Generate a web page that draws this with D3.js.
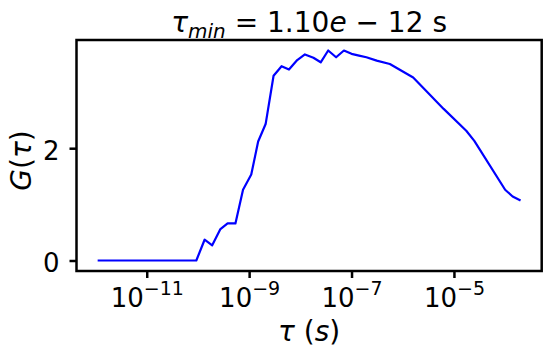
<!DOCTYPE html>
<html>
<head>
<meta charset="utf-8">
<script src="https://cdn.jsdelivr.net/npm/d3@7"></script>
<style>
  body { margin: 0; background: #fff; }
  svg { display: block; font-family: "DejaVu Sans", sans-serif; }
  .axis path { stroke: #000; stroke-width: 2.5; }
  .axis line { stroke: #000; stroke-width: 2.5; }
  .axis text { font-size: 26px; fill: #000; font-family: "DejaVu Sans", sans-serif; }
</style>
</head>
<body>
<div id="chart"></div>
<script>

// Lag times (s) and correlation values
var tau = [1.10e-12, 9.3e-11, 1.35e-10, 1.9e-10, 2.75e-10, 3.8e-10, 5.4e-10, 7.6e-10,
           1.1e-9, 1.5e-9, 2.1e-9, 3.0e-9, 4.3e-9, 6.0e-9, 8.7e-9, 1.23e-8, 1.8e-8,
           2.5e-8, 3.5e-8, 5.0e-8, 7.1e-8, 1.0e-7, 1.4e-7, 1.95e-7, 3.1e-7, 5.6e-7,
           1.6e-6, 6.3e-6, 1.74e-5, 2.5e-5, 1.0e-4, 1.4e-4, 2.0e-4];
var G = [0, 0, 0.37, 0.27, 0.56, 0.66, 0.66, 1.26,
         1.53, 2.12, 2.43, 3.29, 3.46, 3.40, 3.57, 3.67, 3.61,
         3.53, 3.74, 3.62, 3.74, 3.68, 3.65, 3.62, 3.56, 3.50,
         3.26, 2.70, 2.31, 2.13, 1.26, 1.14, 1.07];

var xTicks = [1e-11, 1e-9, 1e-7, 1e-5];
var yTicks = [0, 2];

var svg = d3.select("#chart").append("svg")
    .attr("width", 551)
    .attr("height", 359);

var margin = {top: 40, right: 9.3, bottom: 88, left: 76.5},
    width = 551 - margin.left - margin.right,
    height = 359 - margin.top - margin.bottom,
    g = svg.append("g").attr("transform", "translate(" + margin.left + "," + margin.top + ")");

// matplotlib-style 5% padding on the log axis
var lx0 = Math.log10(d3.min(tau)), lx1 = Math.log10(d3.max(tau)),
    padx = (lx1 - lx0) * 0.05;
var x = d3.scaleLog()
    .domain([Math.pow(10, lx0 - padx), Math.pow(10, lx1 + padx)])
    .range([0, width]);

var gmax = d3.max(G), pady = gmax * 0.05;
var y = d3.scaleLinear()
    .domain([-pady, gmax + pady])
    .range([height, 0]);

// y axis
var yAxis = g.append("g")
    .attr("class", "axis")
    .call(d3.axisLeft(y).tickValues(yTicks).tickSize(7).tickPadding(10).tickFormat(d3.format("d")));
yAxis.select(".domain").remove();
yAxis.selectAll("text").attr("dy", "0.42em");

// x axis with 10^n labels
var xAxis = g.append("g")
    .attr("class", "axis")
    .attr("transform", "translate(0," + height + ")")
    .call(d3.axisBottom(x).tickValues(xTicks).tickSize(7).tickFormat(""));
xAxis.select(".domain").remove();

xAxis.selectAll(".tick").each(function(d) {
  var t = d3.select(this).append("text")
      .attr("y", 36)
      .attr("text-anchor", "middle")
      .attr("fill", "#000");
  t.append("tspan").text("10");
  t.append("tspan")
      .attr("dy", -12)
      .style("font-size", "19px")
      .text("\u2212" + Math.round(-Math.log10(d)));
});

// frame
g.append("rect")
    .attr("width", width)
    .attr("height", height)
    .attr("fill", "none")
    .attr("stroke", "#000")
    .attr("stroke-width", 2.5);

// data line
var line = d3.line()
    .x(function(d, i) { return x(tau[i]); })
    .y(function(d) { return y(d); });

g.append("path")
    .datum(G)
    .attr("fill", "none")
    .attr("stroke", "#0000ff")
    .attr("stroke-width", 2.2)
    .attr("stroke-linejoin", "round")
    .attr("d", line);

// title
var title = svg.append("text")
    .attr("x", margin.left + width / 2)
    .attr("y", 32)
    .attr("text-anchor", "middle")
    .style("font-size", "28px");
title.append("tspan").style("font-style", "italic").text("\u03c4");
title.append("tspan").style("font-style", "italic").style("font-size", "20px").attr("dy", 6).text("min");
title.append("tspan").attr("dy", -6).text(" = 1.10");
title.append("tspan").style("font-style", "italic").text("e");
title.append("tspan").text(" \u2212 12 s");

// axis labels
var xl = svg.append("text")
    .attr("x", margin.left + width / 2)
    .attr("y", 341)
    .attr("text-anchor", "middle")
    .style("font-size", "28px");
xl.append("tspan").style("font-style", "italic").text("\u03c4");
xl.append("tspan").text(" (");
xl.append("tspan").style("font-style", "italic").text("s");
xl.append("tspan").text(")");

var yl = svg.append("text")
    .attr("transform", "translate(31," + (margin.top + height / 2 + 5) + ") rotate(-90)")
    .attr("text-anchor", "middle")
    .style("font-size", "28px");
yl.append("tspan").style("font-style", "italic").text("G");
yl.append("tspan").text("(");
yl.append("tspan").style("font-style", "italic").text("\u03c4");
yl.append("tspan").text(")");

</script>
</body>
</html>
